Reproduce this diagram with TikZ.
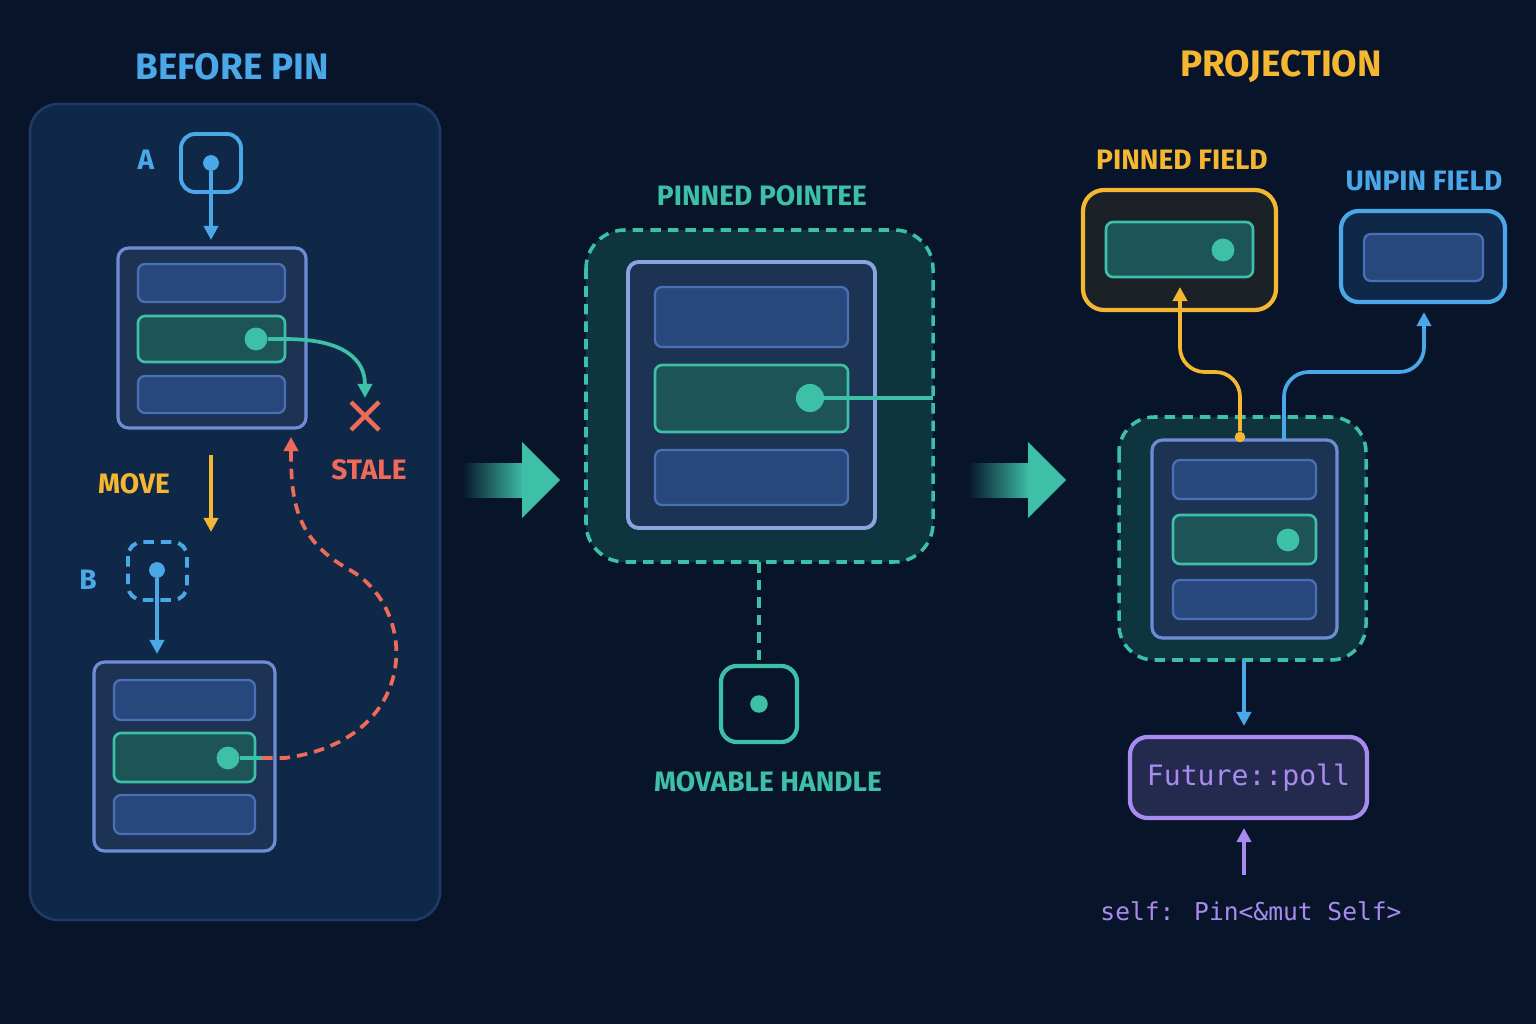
\documentclass[tikz,border=0pt]{standalone}
\usepackage{fontspec}
\setmainfont{Fira Sans}
\newfontfamily\codefont{DejaVu Sans Mono}
\usetikzlibrary{arrows.meta,shapes.geometric}
\definecolor{bg}{HTML}{07142A}
\definecolor{panel}{HTML}{0F2848}
\definecolor{panelb}{HTML}{1F3B63}
\definecolor{cblue}{HTML}{4AA8E8}
\definecolor{cteal}{HTML}{3DBFA8}
\definecolor{corange}{HTML}{F5B731}
\definecolor{cred}{HTML}{F06A5A}
\definecolor{cpurple}{HTML}{A98BF0}
\definecolor{sfill}{HTML}{1C3354}
\definecolor{sbord}{HTML}{6F8DD6}
\definecolor{rfill}{HTML}{27477D}
\definecolor{rbord}{HTML}{4A6FB5}
\definecolor{tfill}{HTML}{1D5458}
\definecolor{regfill}{HTML}{0E3440}
\tikzset{
 lbl/.style={font=\bfseries\fontsize{16}{18}\selectfont},
 ttl/.style={font=\bfseries\fontsize{21}{24}\selectfont},
 struct/.style={draw=sbord,fill=sfill,line width=1.8pt,rounded corners=6pt},
 brow/.style={draw=rbord,fill=rfill,line width=1.3pt,rounded corners=4pt},
 trow/.style={draw=cteal,fill=tfill,line width=1.5pt,rounded corners=4pt},
 dotc/.style={circle,fill=cteal,inner sep=0pt,minimum size=13pt},
 arr/.style={line width=2.1pt,-{Triangle[length=8pt,width=8pt]}},
 dsh/.style={dash pattern=on 6pt off 4pt},
}
\begin{document}
\begin{tikzpicture}[x=0.02cm,y=-0.02cm]
\fill[bg] (0,0) rectangle (1536,1024);
\useasboundingbox (0,0) rectangle (1536,1024);
% left panel
\filldraw[fill=panel,draw=panelb,line width=1.5pt,rounded corners=16pt] (30,104) rectangle (440,920);
\node[ttl,text=cblue] (t1) at (232,67) {BEFORE PIN};
\node[lbl,text=cblue] (la) at (146,160) {A};
\draw[cblue,line width=2.2pt,rounded corners=8pt] (181,134) rectangle (241,192);
\node[circle,fill=cblue,inner sep=0pt,minimum size=9pt] (da) at (211,163) {};
\node[struct,minimum width=188*0.02cm,minimum height=180*0.02cm] (s1) at (212,338) {};
\draw[brow] (138,264) rectangle (285,302);
\draw[trow] (138,316) rectangle (285,362);
\draw[brow] (138,376) rectangle (285,413);
\node[dotc] (d1) at (256,339) {};
\draw[arr,cblue] (da) -- (211,240);
\coordinate (xa) at (365,398);
\draw[arr,cteal] (d1) -- (285,339) .. controls (345,339) and (365,360) .. (xa);
\draw[cred,line width=2.6pt] (351,402) -- (379,430) (379,402) -- (351,430);
\node[lbl,text=cred] (st) at (369,470) {STALE};
\node[lbl,text=corange] (mv) at (134,484) {MOVE};
\draw[arr,corange,line width=2.6pt] (211,455) -- (211,532);
\node[lbl,text=cblue] (lb) at (88,580) {B};
\draw[cblue,line width=2.2pt,dsh,rounded corners=8pt] (128,542) rectangle (187,600);
\node[circle,fill=cblue,inner sep=0pt,minimum size=9pt] (db) at (157,570) {};
\draw[arr,cblue] (db) -- (157,654);
\node[struct,minimum width=181*0.02cm,minimum height=189*0.02cm] (s2) at (184.5,756.5) {};
\draw[brow] (114,680) rectangle (255,720);
\draw[trow] (114,733) rectangle (255,782);
\draw[brow] (114,795) rectangle (255,834);
\node[dotc] (d2) at (228,758) {};
\coordinate (rt) at (291,437);
\draw[cteal,line width=2pt] (d2) -- (262,758);
\draw[arr,cred,dsh] (262,758) -- (285,758) .. controls (420,740) and (420,610) .. (350,570) .. controls (295,540) and (291,500) .. (rt);
% big arrows
\shade[left color=bg,right color=cteal] (462,463) rectangle (524,497);
\fill[cteal] (522,442) -- (560,480) -- (522,518) -- cycle;
\shade[left color=bg,right color=cteal] (968,463) rectangle (1030,497);
\fill[cteal] (1028,442) -- (1066,480) -- (1028,518) -- cycle;
% middle
\node[lbl,text=cteal] (pp) at (762,196) {PINNED POINTEE};
\filldraw[fill=regfill,draw=cteal,dsh,line width=2pt,rounded corners=22pt] (586,230) rectangle (933,562);
\draw[struct,draw=sbord!80!white,line width=2.2pt] (628,262) rectangle (875,528);
\draw[brow] (655,287) rectangle (848,347);
\draw[trow] (655,365) rectangle (848,432);
\draw[brow] (655,450) rectangle (848,505);
\node[dotc,minimum size=16pt] (d3) at (810,398) {};
\coordinate (re) at (933,398);
\draw[cteal,line width=2pt] (d3) -- (re);
\node[draw=cteal,line width=2.4pt,rounded corners=9pt,minimum size=76*0.02cm] (h) at (759,704) {};
\node[circle,fill=cteal,inner sep=0pt,minimum size=10pt] at (h) {};
\draw[cteal,line width=2pt,dsh] (759,562) -- (h.north);
\node[lbl,text=cteal] (mh) at (768,782) {MOVABLE HANDLE};
% right
\node[ttl,text=corange] (pj) at (1281,67) {PROJECTION};
\node[lbl,text=corange] (pf) at (1182,160) {PINNED FIELD};
\filldraw[fill=black!60!bg!80!gray,draw=corange,line width=2.4pt,rounded corners=12pt] (1083,190) rectangle (1276,310);
\draw[trow] (1106,222) rectangle (1253,277);
\node[dotc] (d4) at (1223,250) {};
\node[lbl,text=cblue] (uf) at (1424,181) {UNPIN FIELD};
\filldraw[fill=panel,draw=cblue,line width=2.4pt,rounded corners=10pt] (1341,211) rectangle (1505,302);
\draw[brow] (1364,234) rectangle (1483,281);
\filldraw[fill=regfill,draw=cteal,dsh,line width=2pt,rounded corners=20pt] (1119,417) rectangle (1366,660);
\draw[struct] (1152,440) rectangle (1337,638);
\draw[brow] (1173,460) rectangle (1316,499);
\draw[trow] (1173,515) rectangle (1316,564);
\draw[brow] (1173,580) rectangle (1316,619);
\node[dotc] (d5) at (1288,540) {};
\node[circle,fill=corange,inner sep=0pt,minimum size=6pt] (od) at (1240,437) {};
\draw[arr,corange,rounded corners=14pt] (od) -- (1240,372) -- (1180,372) -- (1180,287);
\draw[arr,cblue,rounded corners=14pt] (1284,440) -- (1284,372) -- (1424,372) -- (1424,312);
\node[draw=cpurple,fill=cpurple!18!bg,line width=2.4pt,rounded corners=10pt,minimum width=237*0.02cm,minimum height=81*0.02cm,text=cpurple,font=\codefont\fontsize{16}{18}\selectfont] (fp) at (1248.5,777.5) {Future::poll};
\draw[arr,cblue] (1244,660) -- (1244,726);
\node[text=cpurple,font=\codefont\fontsize{14}{16}\selectfont] (sf) at (1251,911) {self: Pin<\&mut Self>};
\coordinate (pa) at (1244,875);
\draw[arr,cpurple,line width=2.6pt] (pa) -- (1244,828);
\end{tikzpicture}
\end{document}
